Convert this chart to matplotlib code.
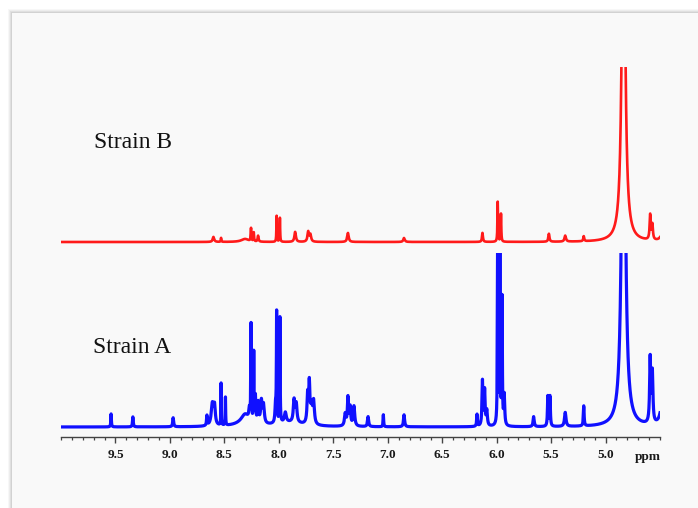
import numpy as np
import matplotlib
matplotlib.use("Agg")
import matplotlib.pyplot as plt
from matplotlib.patches import Rectangle
from matplotlib.ticker import MultipleLocator

# peak tables: position (ppm), height (px above baseline), half width (ppm)
a_ppm = [9.54, 9.34, 8.97, 8.66, 8.61, 8.59, 8.53, 8.49, 8.31, 8.27, 8.255, 8.23,
         8.215, 8.19, 8.16, 8.14, 8.03, 8.02, 7.99, 7.94, 7.86, 7.84, 7.735, 7.72,
         7.70, 7.68, 7.39, 7.365, 7.345, 7.31, 7.18, 7.04, 6.85, 6.18, 6.13, 6.11,
         6.09, 5.99, 5.97, 5.95, 5.93, 5.66, 5.53, 5.51, 5.37, 5.20, 4.835, 4.59,
         4.57, 4.47, 8.30, 7.90]
a_height = [13, 10, 9, 10, 22, 18, 42, 28, 8, 10, 95, 68,
            25, 20, 22, 18, 18, 108, 105, 10, 22, 18, 28, 38,
            18, 22, 12, 28, 18, 20, 10, 12, 12, 12, 45, 35,
            15, 200, 200, 125, 30, 10, 30, 30, 14, 20, 480, 65,
            50, 40, 4, 4]
a_width = [0.003, 0.004, 0.005, 0.004, 0.012, 0.008, 0.002, 0.002, 0.04, 0.006, 0.0025, 0.0025,
           0.004, 0.006, 0.008, 0.008, 0.006, 0.0025, 0.0025, 0.01, 0.008, 0.008, 0.007, 0.006,
           0.01, 0.008, 0.008, 0.006, 0.006, 0.008, 0.006, 0.003, 0.006, 0.004, 0.005, 0.005,
           0.006, 0.003, 0.003, 0.003, 0.005, 0.006, 0.004, 0.004, 0.008, 0.004, 0.0173, 0.006,
           0.006, 0.02, 0.1, 0.15]

b_ppm = [8.60, 8.53, 8.31, 8.255, 8.23, 8.19, 8.02, 7.99, 7.85, 7.73, 7.71, 7.365,
         6.85, 6.13, 5.99, 5.96, 5.52, 5.37, 5.20, 4.835, 4.59, 4.57, 4.47]
b_height = [5, 4, 3, 13, 9, 6, 26, 24, 10, 10, 7, 9,
            4, 9, 40, 28, 8, 6, 5, 420, 25, 15, 12]
b_width = [0.008, 0.003, 0.04, 0.003, 0.003, 0.005, 0.0025, 0.0025, 0.008, 0.008, 0.008, 0.008,
           0.008, 0.005, 0.003, 0.003, 0.006, 0.008, 0.005, 0.0165, 0.006, 0.006, 0.02]

tick_values = [9.5, 9.0, 8.5, 8.0, 7.5, 7.0, 6.5, 6.0, 5.5, 5.0]
labels = ["Strain A", "Strain B"]


def spectrum(x, centers, heights, widths):
    y = np.zeros_like(x)
    for c, h, w in zip(centers, heights, widths):
        y += h * w**2 / ((x - c)**2 + w**2)
    return y


ppm = np.arange(4.5, 10.0001, 0.0002)
spec_a = spectrum(ppm, a_ppm, a_height, a_width)
spec_b = spectrum(ppm, b_ppm, b_height, b_width)

W, H = 698, 508
fig = plt.figure(figsize=(W / 100, H / 100), dpi=100, facecolor="white")

# card with soft shadow
for i, a in enumerate([0.03, 0.04, 0.05, 0.06]):
    d = 4 - i
    fig.patches.append(Rectangle(((12 - d) / W, 0), (W - 12 + d) / W, (H - 13 + d) / H,
                                 transform=fig.transFigure, facecolor="black",
                                 alpha=a, edgecolor="none", zorder=-5))
fig.patches.append(Rectangle((12 / W, 0), (W - 12) / W, (H - 13) / H,
                             transform=fig.transFigure, facecolor="#f9f9f9",
                             edgecolor="none", zorder=-4))

x0, x1 = 61, 660
axis_y, split_y, top_y = 437, 253, 67

ax_a = fig.add_axes([x0 / W, (H - axis_y) / H, (x1 - x0) / W, (axis_y - split_y) / H])
ax_b = fig.add_axes([x0 / W, (H - split_y) / H, (x1 - x0) / W, (split_y - top_y) / H])

for ax in (ax_a, ax_b):
    ax.set_facecolor("none")
    ax.set_zorder(2)
    ax.set_xlim(10.0, 4.5)
    for s in ("top", "right", "left"):
        ax.spines[s].set_visible(False)
    ax.set_yticks([])

ax_a.plot(ppm, spec_a, color="#1010ff", lw=2.3)
ax_a.set_ylim(-10, 174)
ax_b.plot(ppm, spec_b, color="#ff1a1a", lw=1.9)
ax_b.set_ylim(-11, 175)
ax_b.spines["bottom"].set_visible(False)
ax_b.set_xticks([])

ax_a.spines["bottom"].set_color("#444444")
ax_a.spines["bottom"].set_linewidth(1.0)
ax_a.set_xticks(tick_values)
ax_a.set_xticklabels([f"{v:.1f}" for v in tick_values],
                     fontfamily="Liberation Serif", fontweight="bold", fontsize=9.5,
                     color="#1a1a1a")
ax_a.xaxis.set_minor_locator(MultipleLocator(0.1))
ax_a.tick_params(axis="x", which="major", length=4, width=1.0, color="#444444", pad=5)
ax_a.tick_params(axis="x", which="minor", length=2.5, width=0.9, color="#444444")
ax_a.text(4.615, -(457 - axis_y) / (axis_y - split_y), "ppm",
          transform=ax_a.get_xaxis_transform(), ha="center", va="center",
          fontfamily="Liberation Serif", fontweight="bold", fontsize=9.5, color="#1a1a1a")

fig.text(94 / W, 1 - 148 / H, labels[1], fontfamily="Liberation Serif", fontsize=17,
         va="baseline", ha="left", color="#111111")
fig.text(93 / W, 1 - 353 / H, labels[0], fontfamily="Liberation Serif", fontsize=17,
         va="baseline", ha="left", color="#111111")

fig.savefig("out.png", dpi=100, facecolor=fig.get_facecolor())
